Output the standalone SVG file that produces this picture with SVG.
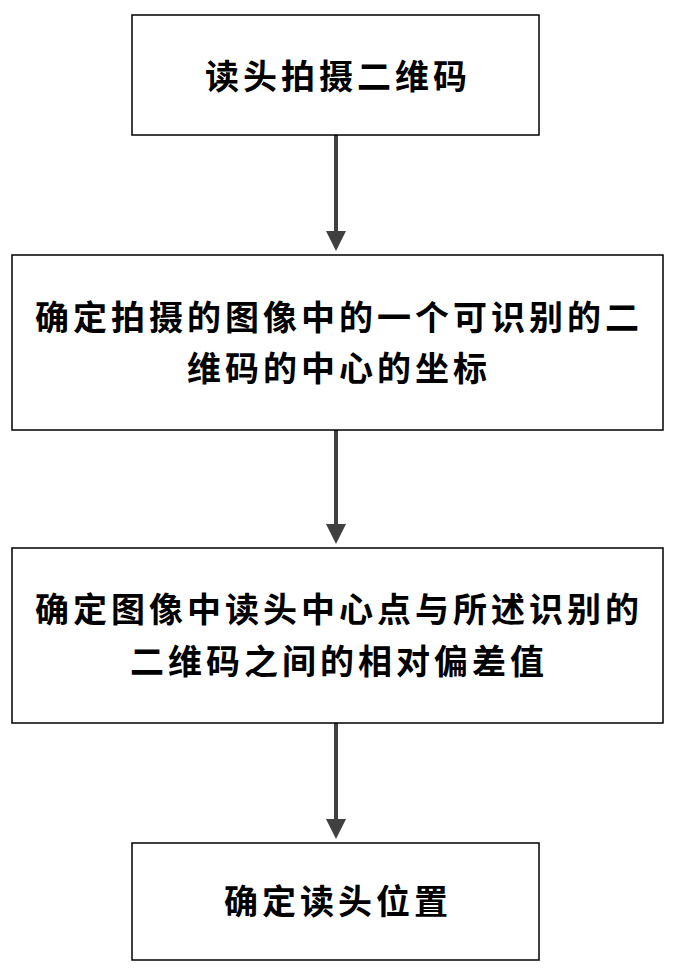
<svg xmlns="http://www.w3.org/2000/svg" width="676" height="974" viewBox="0 0 676 974">
<style>
.b{fill:#fff;stroke:#000;stroke-width:1.5}
.t{font-family:"Noto Sans CJK SC","Liberation Sans",sans-serif;font-size:34px;letter-spacing:4px;font-weight:bold;text-anchor:middle;fill:#000}
.c{stroke:#404040;stroke-width:4;fill:none}
</style>
<defs><marker id="a" markerWidth="5" markerHeight="5" refX="4" refY="2.5" orient="auto"><path d="M0,0L5,2.5L0,5Z" fill="#404040"/></marker></defs>
<rect width="676" height="974" fill="#fff"/>
<g id="connectors">
<line class="c" x1="336" y1="135" x2="336" y2="247" marker-end="url(#a)"/>
<line class="c" x1="336" y1="430" x2="336" y2="540" marker-end="url(#a)"/>
<line class="c" x1="336" y1="723" x2="336" y2="835" marker-end="url(#a)"/>
</g>
<g id="n1"><rect class="b" x="132" y="15" width="407" height="120"/><text class="t" x="338" y="89">读头拍摄二维码</text></g>
<g id="n2"><rect class="b" x="12" y="255" width="651" height="175"/><text class="t" x="339" y="330">确定拍摄的图像中的一个可识别的二</text><text class="t" x="339" y="381">维码的中心的坐标</text></g>
<g id="n3"><rect class="b" x="12" y="548" width="651" height="175"/><text class="t" x="339" y="622">确定图像中读头中心点与所述识别的</text><text class="t" x="339" y="674">二维码之间的相对偏差值</text></g>
<g id="n4"><rect class="b" x="132" y="843" width="407" height="117"/><text class="t" x="338" y="914">确定读头位置</text></g>
</svg>
